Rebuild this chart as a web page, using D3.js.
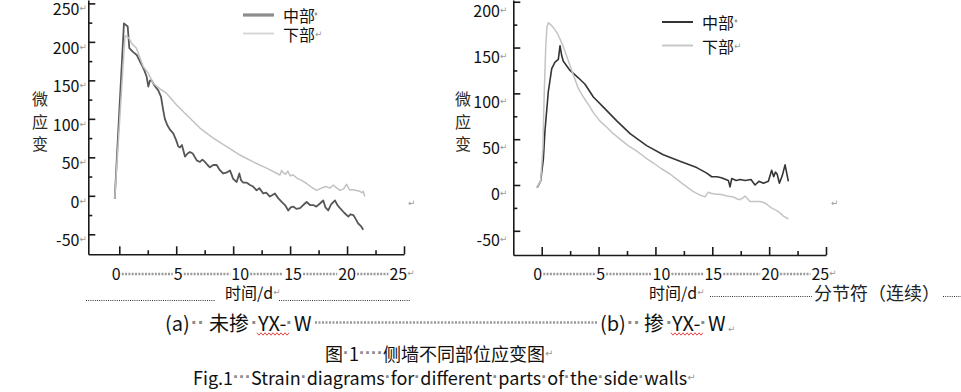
<!DOCTYPE html>
<html><head><meta charset="utf-8">
<script src="https://cdn.jsdelivr.net/npm/d3@7/dist/d3.min.js"></script>
<style>
body{margin:0;background:#fff;}
svg{display:block;font-family:"Noto Sans CJK SC","Noto Sans",sans-serif;}
</style></head>
<body><svg id="c" width="961" height="392"></svg>
<script>
// ---------- data ----------
const seriesNames = ["中部", "下部"];
const xTickLabels = [0, 5, 10, 15, 20, 25];
const xTickValues = [0, 2.5, 5, 7.5, 10, 12.5, 15, 17.5, 20, 22.5, 25];
const yTickLabelsA = [-50, 0, 50, 100, 150, 200, 250];
const yTickValuesA = [-50, -25, 0, 25, 50, 75, 100, 125, 150, 175, 200, 225, 250];
const yTickLabelsB = [-50, 0, 50, 100, 150, 200];
const yTickValuesB = [-50, -25, 0, 25, 50, 75, 100, 125, 150, 175, 200];

// (a) 未掺 YX-W : 中部
const aMidDays = [-0.4,0.41,0.74,0.88,1.2,1.53,1.9,2.2,2.4,2.55,2.7,2.84,3.1,3.42,3.66,3.86,4.0,4.21,4.45,4.74,5.0,5.18,5.33,5.5,5.77,6.0,6.2,6.45,6.8,7.08,7.3,7.52,7.75,7.96,8.25,8.55,8.85,9.13,9.4,9.72,10.0,10.31,10.54,10.7,10.89,11.2,11.48,11.75,12.06,12.3,12.64,12.9,13.23,13.45,13.67,13.95,14.26,14.55,14.84,15.05,15.28,15.55,15.87,16.15,16.45,16.75,17.03,17.3,17.62,17.91,18.1,18.35,18.6,18.94,19.15,19.38,19.75,20.11,20.3,20.55,20.75,20.98,21.2,21.42];
const aMidVals = [-4,224,220,192,187,183,172,163,155,142,150,150,143,137,129,111,100,92,86,81,72,64,63,66,51,55,57,55,46,44,47,44,40,37,40,40,33,29,30,33,22,18,29,20,17,17,14,12,7,10,3,4,-1,1,3,-3,-8,-12,-19,-15,-14,-17,-16,-12,-8,-12,-12,-14,-10,-6,-15,-19,-11,-6,-12,-16,-22,-27,-24,-25,-30,-36,-39,-44];
// (a) 下部
const aLowDays = [-0.4,0.5,0.85,1.09,1.5,2.1,2.55,2.99,3.57,4.16,5.04,5.92,7.08,8.25,9.43,10.6,11.76,12.94,14.11,14.25,14.4,14.6,14.8,15.0,15.28,15.6,16.0,16.45,16.9,17.33,17.6,17.91,18.2,18.5,18.79,19.1,19.38,19.7,19.96,20.2,20.5,20.84,21.1,21.3,21.42,21.56];
const aLowVals = [-4,208,205,198,192,168,159,146,139,133,118,105,88,75,64,53,44,36,27,33,30,28,32,26,27,23,20,16,11,7,9,11,12,10,14,10,7,9,15,8,8,7,6,4,6,-1];

// (b) 掺 YX-W : 中部
const bMidDays = [-0.41,-0.1,0.14,0.29,0.58,0.88,1.17,1.46,1.61,1.76,1.9,2.49,3.22,3.81,4.54,5.42,6.6,7.77,9.23,10.69,12.16,13.63,14.51,14.95,15.4,15.8,16.41,16.56,16.71,17.1,17.44,17.9,18.4,18.76,19.1,19.5,19.93,20.22,20.4,20.55,20.7,20.9,21.15,21.4,21.69];
const bMidVals = [-3,4,28,60,102,127,134,137,152,141,135,125,117,110,96,85,70,56,43,33,26,19,13,9,9,8,5,-2,7,5,6,5,6,0,4,2,4,16,9,14,12,2,10,22,4];
// (b) 下部
const bLowDays = [-0.41,-0.1,0.1,0.22,0.35,0.45,0.58,0.8,1.02,1.4,1.9,2.3,2.78,3.2,3.66,4.1,4.54,5.1,5.72,6.3,6.89,7.6,8.36,9.1,9.82,10.5,11.28,12.0,12.75,13.3,13.92,14.36,14.65,14.9,15.3,15.68,16.3,16.85,17.15,17.44,17.7,17.88,18.1,18.32,18.8,19.2,19.5,19.79,20.2,20.67,21.0,21.25,21.55,21.69];
const bLowVals = [-3,4,40,100,150,172,177,175,172,165,151,137,120,106,96,88,79,70,63,56,50,43,37,30,24,18,12,5,-2,-7,-11,-13,-8,-9,-10,-10,-12,-13,-15,-16,-14,-12,-15,-18,-18,-18,-19,-21,-25,-28,-31,-34,-36,-37];

// ---------- drawing ----------
const svg = d3.select("#c");
const DOT = "·";

function richText(g, x, y, str, size, anchor, color) {
  const t = g.append("text").attr("x", x).attr("y", y)
    .attr("font-size", size).attr("dominant-baseline", "central")
    .attr("text-anchor", anchor || "start").attr("fill", color || "#111");
  const runs = str.match(/(·+|↵|[^·↵]+)/g) || [];
  runs.forEach(r => {
    const ts = t.append("tspan").text(r);
    if (r[0] === DOT) ts.attr("fill", "#8a8a8a").attr("font-family", "Liberation Sans").attr("font-weight", "bold");
    if (r === "↵") ts.attr("fill", "#999").attr("font-size", size * 0.55).attr("font-family", "DejaVu Sans");
  });
  return t;
}
function tokens(g, y, size, list) {
  list.forEach(([x, s]) => richText(g, x, y, s, size, "start"));
}

function dotted(x1, x2, y, color, w, dash) {
  svg.append("line").attr("x1", x1).attr("x2", x2).attr("y1", y).attr("y2", y)
    .attr("stroke", color).attr("stroke-width", w).attr("stroke-dasharray", dash);
}

function drawPanel(cfg) {
  const x = d3.scaleLinear().domain(cfg.xDomain).range(cfg.xRange);
  const y = d3.scaleLinear().domain(cfg.yDomain).range(cfg.yRange);
  const g = svg.append("g");

  // axes (inward ticks)
  const ax = g.append("g").attr("transform", `translate(0,${cfg.yRange[0]})`)
    .call(d3.axisBottom(x).tickValues(xTickValues).tickSizeOuter(0).tickSizeInner(-4).tickFormat(""));
  ax.selectAll(".tick line").attr("y2", d => (d % 5 === 0 ? -8 : -4));
  const ay = g.append("g").attr("transform", `translate(${cfg.xRange[0]},0)`)
    .call(d3.axisLeft(y).tickValues(cfg.yTickValues).tickSizeOuter(0).tickSizeInner(-4).tickFormat(""));
  ay.selectAll(".tick line").attr("x2", d => (d % 50 === 0 ? 7 : 4));
  g.selectAll(".domain, .tick line").attr("stroke", "#1a1a1a").attr("stroke-width", 1.6);

  // y tick labels
  cfg.yTickLabels.forEach(v => {
    richText(g, cfg.xRange[0] - cfg.yLabPad, y(v) + cfg.yLabDy, v + "↵", 16, "end", "#111");
  });

  // x tick labels with tab leader dots
  const labs = xTickLabels.map((v, i) =>
    richText(g, x(v) + cfg.xLabDx[i], 273, v + (i === xTickLabels.length - 1 ? "↵" : ""), 16, "middle", "#111"));
  for (let i = 0; i < labs.length - 1; i++) {
    const b1 = labs[i].node().getBBox(), b2 = labs[i + 1].node().getBBox();
    dotted(b1.x + b1.width + 1, b2.x - 1, 274, "#9a9a9a", 2.6, "2,1.3");
  }

  // y-axis title
  ["微", "应", "变"].forEach((c, i) => {
    g.append("text").attr("x", cfg.yTitleX).attr("y", [98, 121, 143][i])
      .attr("dominant-baseline", "central").attr("text-anchor", "middle")
      .attr("font-size", 16).attr("fill", "#2e2a24").text(c);
  });

  // series lines
  const line = d3.line().x(d => x(d[0])).y(d => y(d[1]));
  cfg.series.forEach(s => {
    const pts = s.days.map((d, i) => [d, s.vals[i]]);
    g.append("path").datum(pts).attr("d", line).attr("fill", "none")
      .attr("stroke", s.color).attr("stroke-width", s.width)
      .attr("stroke-linejoin", "round");
  });

  // legend
  cfg.series.forEach((s, i) => {
    const ly = cfg.legY[i];
    g.append("line").attr("x1", cfg.legX).attr("x2", cfg.legX + 31).attr("y1", ly).attr("y2", ly)
      .attr("stroke", s.legColor).attr("stroke-width", s.legWidth);
    richText(g, cfg.legX + 40, ly, seriesNames[i] + (i === 0 ? "" : "↵"), 16, "start", "#111");
  });
  return { x, y };
}

// panel (a)
drawPanel({
  xDomain: [-2.72, 25], xRange: [88.3, 404],
  yDomain: [-76, 254.4], yRange: [254.3, 0],
  yTickValues: yTickValuesA, yTickLabels: yTickLabelsA,
  yLabPad: 1.5, yLabDy: 5, xLabDx: [-3, 2, 7, 3, 0, -2], yTitleX: 40,
  legX: 243, legY: [15, 33.5],
  series: [
    { days: aMidDays, vals: aMidVals, color: "#575757", width: 1.8, legColor: "#8c8c8c", legWidth: 3.2 },
    { days: aLowDays, vals: aLowVals, color: "#c2c2c2", width: 1.5, legColor: "#d4d4d4", legWidth: 1.8 }
  ]
});
// panel (b)
drawPanel({
  xDomain: [-2.5, 25], xRange: [513.3, 826],
  yDomain: [-76.4, 201.9], yRange: [255, 0],
  yTickValues: yTickValuesB, yTickLabels: yTickLabelsB,
  yLabPad: 6, yLabDy: 8, xLabDx: [-4, 2, 6, 1, 1, -2], yTitleX: 463,
  legX: 662, legY: [22, 45.5],
  series: [
    { days: bMidDays, vals: bMidVals, color: "#353535", width: 1.6, legColor: "#333", legWidth: 2 },
    { days: bLowDays, vals: bLowVals, color: "#c4c4c4", width: 1.5, legColor: "#c8c8c8", legWidth: 2 }
  ]
});

// small legend marks after 中部
svg.append("circle").attr("cx", 316).attr("cy", 14).attr("r", 1.4).attr("fill", "#999");
svg.append("circle").attr("cx", 736).attr("cy", 21).attr("r", 1.4).attr("fill", "#999");
// paragraph marks at right of plots
richText(svg, 408, 203, "↵", 16, "start");
richText(svg, 831, 203, "↵", 16, "start");

// axis titles & document texts
richText(svg, 225, 292, "时间/d↵", 16, "start");
dotted(86, 215, 300.5, "#333", 1, "1,1.2");
dotted(279, 410, 300.5, "#333", 1, "1,1.2");
richText(svg, 649, 292, "时间/d↵", 16, "start");
dotted(710, 812, 296.5, "#333", 1, "1,1.2");
svg.append("text").attr("x", 814).attr("y", 292).attr("font-size", 18)
  .attr("dominant-baseline", "central").attr("fill", "#222").text("分节符（连续）");
dotted(943, 961, 296.5, "#333", 1, "1,1.2");

// sub-captions
tokens(svg, 322, 20, [[165, "(a)"], [191, "··"], [209, "未掺"], [251, "·"], [258, "YX-"], [286, "·"], [294, "W"]]);
tokens(svg, 322, 20, [[600, "(b)"], [627, "··"], [644, "掺"], [666, "·"], [672, "YX-"], [700, "·"], [708, "W"]]);
dotted(315, 598, 322.5, "#9a9a9a", 2.6, "2,1.5");
richText(svg, 728, 329, "↵", 16, "start");
// red wavy underline (spell-check marks)
function wavy(x1, x2, yy) {
  const pts = d3.range(x1, x2 + 0.1, 2).map((xx, i) => [xx, yy + (i % 2 ? 1.2 : -1.2)]);
  svg.append("path").attr("d", d3.line()(pts)).attr("fill", "none").attr("stroke", "#e03030").attr("stroke-width", 0.9);
}
wavy(257, 290, 334);
wavy(671, 704, 334);

richText(svg, 325, 353, "图·1····侧墙不同部位应变图↵", 18, "start");
richText(svg, 193, 377, "Fig.1···Strain·diagrams·for·different·parts·of·the·side·walls↵", 18, "start");
svg.append("text").attr("x", 385).attr("y", 401).attr("font-size", 18)
  .attr("dominant-baseline", "central").attr("fill", "#333").text("（a）侧墙应变图");
</script>
</body></html>
